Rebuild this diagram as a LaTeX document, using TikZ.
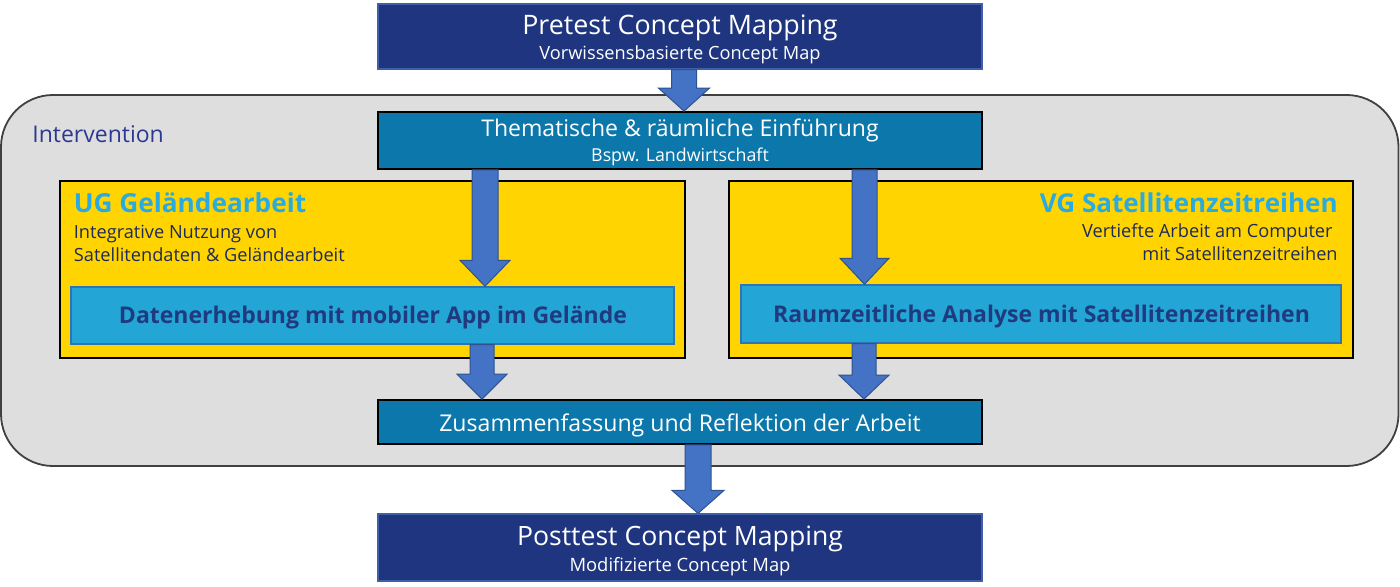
\documentclass[tikz,border=0pt]{standalone}
\usepackage{fontspec}
\setmainfont{Open Sans}
\usetikzlibrary{calc}
\definecolor{navy}{HTML}{1F3580}
\definecolor{navyline}{HTML}{3F5FA8}
\definecolor{tealbox}{HTML}{0B77AB}
\definecolor{yellowbox}{HTML}{FFD400}
\definecolor{lightblue}{HTML}{23A6D5}
\definecolor{lightline}{HTML}{2E75B6}
\definecolor{arrowfill}{HTML}{4472C4}
\definecolor{arrowline}{HTML}{2F528F}
\definecolor{graybg}{HTML}{DEDEDE}
\definecolor{intcol}{HTML}{2B3990}
\definecolor{headcol}{HTML}{29ABE2}
\definecolor{darktext}{HTML}{1F2A5C}
\definecolor{boldtext}{HTML}{203A80}
\tikzset{
  navybox/.style={fill=navy, draw=navyline, line width=0.6pt, minimum width=302pt, inner sep=0pt},
  tealstyle/.style={fill=tealbox, draw=black, line width=0.9pt, minimum width=302pt, inner sep=0pt},
  yellowstyle/.style={fill=yellowbox, draw=black, line width=0.9pt, minimum height=88.5pt, inner sep=0pt},
  innerstyle/.style={fill=lightblue, draw=lightline, line width=0.7pt, inner sep=0pt},
  lbl/.style={anchor=base, inner sep=0pt},
  whitetxt/.style={lbl, text=white},
  boldlbl/.style={lbl, text=boldtext, font=\fontsize{11.5}{13}\selectfont\bfseries},
  barr/.style={fill=arrowfill, draw=arrowline, line width=0.5pt},
}
% block arrow: #1 start, #2 tip, #3 shaft half width, #4 head half width, #5 head length
\newcommand\blockarrow[5]{%
  \path[barr] let \p1=(#1), \p2=(#2) in
    (\x1-#3,\y1) -- (\x1+#3,\y1) -- (\x1+#3,\y2+#5) -- (\x1+#4,\y2+#5) --
    (\x1,\y2) -- (\x1-#4,\y2+#5) -- (\x1-#3,\y2+#5) -- cycle;}
\begin{document}
\begin{tikzpicture}[x=0.5pt,y=-0.5pt]
\useasboundingbox (0,0) rectangle (1400,587);
% intervention background
\path[fill=graybg, draw=black!75, line width=0.9pt, rounded corners=26pt] (1,95) rectangle (1398.5,466);
\node[anchor=base west, inner sep=0pt, text=intcol, font=\fontsize{11.5}{14}\selectfont] (int) at (32,143) {Intervention};

% boxes
\node[navybox, minimum height=32.5pt] (pre) at (680,36.5) {};
\node[tealstyle, minimum height=28.5pt] (them) at (680,140.5) {};
\node[yellowstyle, minimum width=312.5pt] (ug) at (372.5,269.5) {};
\node[yellowstyle, minimum width=312pt] (vg) at (1041,269.5) {};
\node[innerstyle, minimum width=301.5pt, minimum height=28.5pt] (inl) at (372.5,315.5) {};
\node[innerstyle, minimum width=300pt, minimum height=29pt] (inr) at (1041,314) {};
\node[tealstyle, minimum height=22pt] (zus) at (680,422) {};
\node[navybox, minimum height=33.5pt] (post) at (680,547.5) {};

% texts
\node[whitetxt, font=\fontsize{13.4}{16}\selectfont] (pret) at (680,35) {Pretest Concept Mapping};
\node[whitetxt, font=\fontsize{9.1}{11}\selectfont] (pres) at (680,60) {Vorwissensbasierte Concept Map};
\node[whitetxt, font=\fontsize{11.5}{14}\selectfont] (themt) at (680,137) {Thematische \& räumliche Einführung};
\node[whitetxt, font=\fontsize{8.9}{11}\selectfont] (thems) at (680,162) {Bspw. Landwirtschaft};

\node[anchor=base west, inner sep=0pt, text=headcol, font=\fontsize{13.1}{15}\selectfont\bfseries] (ugt) at (73.5,213) {UG Geländearbeit};
\node[anchor=base west, inner sep=0pt, text=darktext, align=left, font=\fontsize{9.1}{11.5}\selectfont] (ugs) at (73.5,262)
  {Integrative Nutzung von\\Satellitendaten \& Geländearbeit};
\node[anchor=base east, inner sep=0pt, text=headcol, font=\fontsize{13}{15}\selectfont\bfseries] (vgt) at (1338,213) {VG Satellitenzeitreihen};
\node[anchor=base east, inner sep=0pt, text=darktext, align=right, font=\fontsize{9.1}{11.5}\selectfont] (vgs) at (1338,261)
  {Vertiefte Arbeit am Computer\kern2.5pt\\mit Satellitenzeitreihen};

\node[boldlbl] (inlt) at (373,323) {Datenerhebung mit mobiler App im Gelände};
\node[boldlbl] (inrt) at (1041.5,322) {Raumzeitliche Analyse mit Satellitenzeitreihen};

\node[whitetxt, font=\fontsize{11.55}{14}\selectfont] (zust) at (680,431) {Zusammenfassung und Reflektion der Arbeit};
\node[whitetxt, font=\fontsize{13.3}{16}\selectfont] (postt) at (680,545) {Posttest Concept Mapping};
\node[whitetxt, font=\fontsize{9.2}{11}\selectfont] (posts) at (680,571) {Modifizierte Concept Map};

% arrows
\coordinate (x1) at (684,0);
\coordinate (x2) at (485,0);
\coordinate (x3) at (864.5,0);
\coordinate (x4) at (482,0);
\coordinate (x5) at (864,0);
\coordinate (x6) at (698,0);
\blockarrow{x1 |- pre.south}{x1 |- them.north}{6.25pt}{12.75pt}{11.5pt}
\blockarrow{x2 |- them.south}{x2 |- inl.north}{6.5pt}{12.5pt}{13pt}
\blockarrow{x3 |- them.south}{x3 |- inr.north}{6.25pt}{12.25pt}{13pt}
\blockarrow{x4 |- inl.south}{x4 |- zus.north}{6pt}{12.5pt}{12.5pt}
\blockarrow{x5 |- inr.south}{x5 |- zus.north}{6pt}{12.5pt}{12pt}
\blockarrow{x6 |- zus.south}{x6 |- post.north}{6.5pt}{13pt}{11.5pt}
\end{tikzpicture}
\end{document}
